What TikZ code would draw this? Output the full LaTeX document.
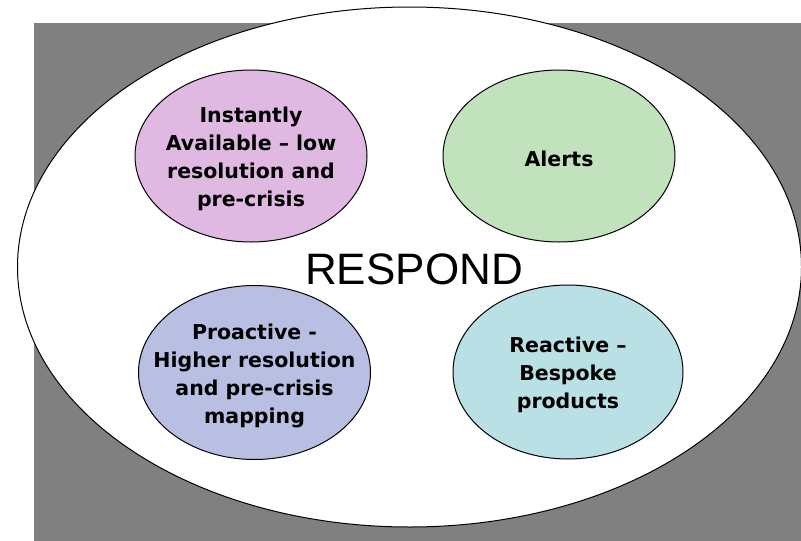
\documentclass[tikz,border=0pt]{standalone}
\usepackage{fontspec}
\usepackage{tikz}
\usetikzlibrary{shapes.geometric}
\setmainfont{Liberation Sans}
\newfontfamily\bubblefont{DejaVu Sans}
\definecolor{backgray}{RGB}{128,128,128}
\definecolor{pinkfill}{RGB}{224,185,226}
\definecolor{greenfill}{RGB}{194,226,190}
\definecolor{bluefill}{RGB}{184,191,226}
\definecolor{tealfill}{RGB}{185,224,228}

\begin{document}
\begin{tikzpicture}[x=1pt,y=-1pt,
    zone/.style={draw, ellipse, line width=1pt, inner sep=0pt,
        minimum width=232pt, minimum height=172pt},
    zonetext/.style={align=center, inner sep=0pt, yshift=-3pt,
        font=\bubblefont\bfseries\fontsize{20.5}{28}\selectfont}]
    % Fix the picture size
    \useasboundingbox (0,0) rectangle (801,541);
    % Draw the gray backdrop
    \fill[backgray] (34,23) rectangle (801,541);
    % Draw the big ellipse
    \node[draw, ellipse, fill=white, line width=1pt, inner sep=0pt,
        minimum width=784pt, minimum height=520pt] (respond) at (409.5,267) {};
    \node[font=\fontsize{44}{50}\selectfont] (title) at (414,269) {RESPOND};
    % Draw the four bubbles
    \node[zone, fill=pinkfill] (instant) at (251,156) {};
    \node[zonetext] (instanttext) at (instant.center)
        {Instantly\\Available – low\\resolution and\\pre-crisis};
    \node[zone, fill=greenfill] (alerts) at (559,156) {};
    \node[zonetext] (alertstext) at (alerts.center) {Alerts};
    \node[zone, fill=bluefill, minimum height=174pt] (proactive) at (254.5,372.5) {};
    \node[zonetext] (proactivetext) at (proactive.center)
        {Proactive -\\Higher resolution\\and pre-crisis\\mapping};
    \node[zone, fill=tealfill, minimum width=230pt, minimum height=174pt] (reactive) at (568,372) {};
    \node[zonetext] (reactivetext) at (reactive.center)
        {Reactive –\\Bespoke\\products};
\end{tikzpicture}
\end{document}
